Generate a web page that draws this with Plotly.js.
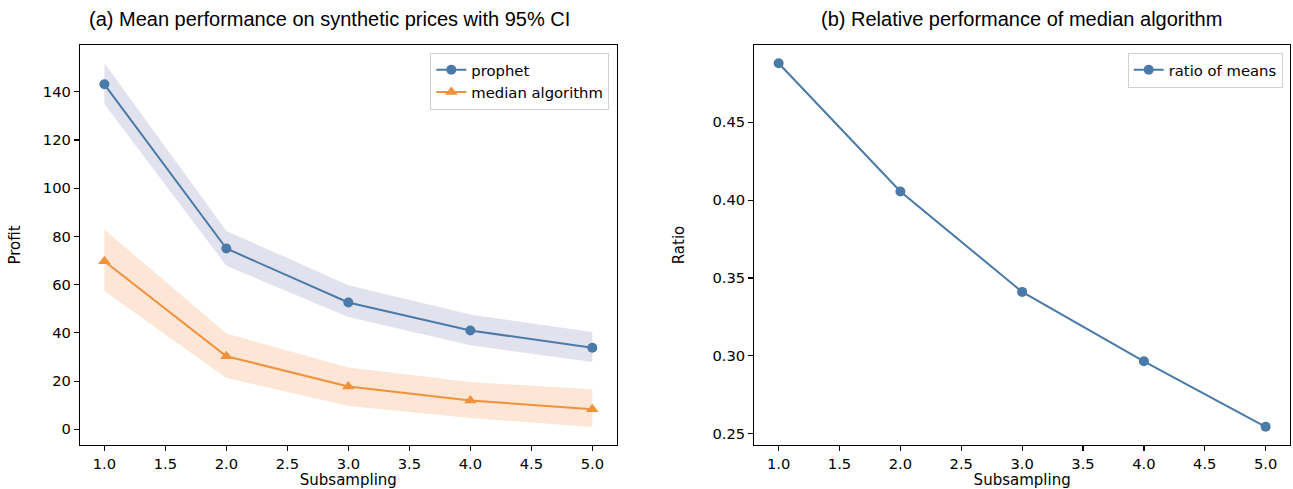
<!DOCTYPE html>
<html>
<head>
<meta charset="utf-8">
<script src="https://cdn.plot.ly/plotly-3.0.1.min.js"></script>
<style>html,body{margin:0;padding:0;background:#fff;}#chart{width:1293px;height:489px;}</style>
</head>
<body>
<div id="chart"></div>
<script>
// Data
const subsampling = [1, 2, 3, 4, 5];
const prophetMean = [143.1, 75.0, 52.6, 41.0, 33.8];
const prophetUpper = [151.8, 82.3, 59.8, 47.6, 40.4];
const prophetLower = [134.9, 67.8, 46.6, 34.9, 27.9];
const medianMean = [69.7, 30.3, 17.8, 12.0, 8.3];
const medianUpper = [82.9, 39.7, 25.6, 19.6, 16.6];
const medianLower = [57.4, 21.3, 9.7, 4.7, 1.0];
const ratioOfMeans = [0.488, 0.4055, 0.341, 0.2964, 0.2543];
const xTickVals = [1, 1.5, 2, 2.5, 3, 3.5, 4, 4.5, 5];
const xTickText = ['1.0','1.5','2.0','2.5','3.0','3.5','4.0','4.5','5.0'];
const profitTicks = [0, 20, 40, 60, 80, 100, 120, 140];
const ratioTicks = [0.25, 0.30, 0.35, 0.40, 0.45];
const ratioTickText = ['0.25','0.30','0.35','0.40','0.45'];

const BLUE = '#4a7aa7';
const ORANGE = '#f0923b';
const BLUE_FILL = 'rgba(200,202,222,0.55)';
const ORANGE_FILL = 'rgba(250,196,156,0.42)';

const traces = [
  {x: subsampling, y: prophetUpper, mode: 'lines', line: {width: 0, color: BLUE_FILL}, showlegend: false, hoverinfo: 'skip', xaxis: 'x', yaxis: 'y'},
  {x: subsampling, y: prophetLower, mode: 'lines', line: {width: 0, color: BLUE_FILL}, fill: 'tonexty', fillcolor: BLUE_FILL, showlegend: false, hoverinfo: 'skip', xaxis: 'x', yaxis: 'y'},
  {x: subsampling, y: medianUpper, mode: 'lines', line: {width: 0, color: ORANGE_FILL}, showlegend: false, hoverinfo: 'skip', xaxis: 'x', yaxis: 'y'},
  {x: subsampling, y: medianLower, mode: 'lines', line: {width: 0, color: ORANGE_FILL}, fill: 'tonexty', fillcolor: ORANGE_FILL, showlegend: false, hoverinfo: 'skip', xaxis: 'x', yaxis: 'y'},
  {x: subsampling, y: prophetMean, name: 'prophet', mode: 'lines+markers', line: {color: BLUE, width: 2}, marker: {symbol: 'circle', size: 10, color: BLUE}, xaxis: 'x', yaxis: 'y', legend: 'legend'},
  {x: subsampling, y: medianMean, name: 'median algorithm', mode: 'lines+markers', line: {color: ORANGE, width: 2}, marker: {symbol: 'triangle-up', size: 11, color: ORANGE}, xaxis: 'x', yaxis: 'y', legend: 'legend'},
  {x: subsampling, y: ratioOfMeans, name: 'ratio of means', mode: 'lines+markers', line: {color: BLUE, width: 2}, marker: {symbol: 'circle', size: 10, color: BLUE}, xaxis: 'x2', yaxis: 'y2', legend: 'legend2'}
];

const tickFont = {family: 'DejaVu Sans', size: 14.7, color: '#000'};
const titleFont = {family: 'DejaVu Sans', size: 15, color: '#000'};
const axisCommon = {
  showgrid: false, zeroline: false, showline: true, mirror: true,
  linecolor: '#000', linewidth: 1.2, ticks: 'outside', ticklen: 5, tickwidth: 1.2,
  tickcolor: '#000', tickfont: tickFont
};
const W = 1293, ML = 80, MR = 3;
const PW = W - ML - MR;
function px(xp) { return (xp - ML) / PW; }
const legendFont = {family: 'DejaVu Sans', size: 14.8, color: '#000'};

const layout = {
  width: 1293, height: 489,
  margin: {l: ML, r: MR, t: 45, b: 44},
  paper_bgcolor: '#fff', plot_bgcolor: '#fff',
  font: {family: 'DejaVu Sans', size: 14, color: '#000'},
  xaxis: Object.assign({}, axisCommon, {domain: [0, px(616.7)], range: [0.8, 5.2], tickvals: xTickVals, ticktext: xTickText, title: {text: 'Subsampling', font: titleFont, standoff: 5}, anchor: 'y'}),
  yaxis: Object.assign({}, axisCommon, {domain: [0, 1], range: [-6.5, 159.4], tickvals: profitTicks, title: {text: 'Profit', font: titleFont, standoff: 18}, anchor: 'x'}),
  xaxis2: Object.assign({}, axisCommon, {domain: [px(754.3), 1], range: [0.8, 5.2], tickvals: xTickVals, ticktext: xTickText, title: {text: 'Subsampling', font: titleFont, standoff: 5}, anchor: 'y2'}),
  yaxis2: Object.assign({}, axisCommon, {domain: [0, 1], range: [0.2426, 0.4997], tickvals: ratioTicks, ticktext: ratioTickText, title: {text: 'Ratio', font: titleFont, standoff: 24}, anchor: 'x2'}),
  legend: {x: px(609.3), xanchor: 'right', y: 1 - (52.7 - 45) / 400, yanchor: 'top', traceorder: 'normal', bgcolor: 'rgba(255,255,255,0.85)', bordercolor: '#d0d0d0', borderwidth: 1, font: legendFont, tracegroupgap: 0},
  legend2: {x: px(1282.7), xanchor: 'right', y: 1 - (52.7 - 45) / 400, yanchor: 'top', bgcolor: 'rgba(255,255,255,0.85)', bordercolor: '#d0d0d0', borderwidth: 1, font: legendFont},
  annotations: [
    {text: '(a) Mean performance on synthetic prices with 95% CI', xref: 'paper', yref: 'paper', x: px(329.5), y: 1 + (45 - 19) / 400, xanchor: 'center', yanchor: 'middle', showarrow: false, font: {family: 'Liberation Sans', size: 20, color: '#000'}},
    {text: '(b) Relative performance of median algorithm', xref: 'paper', yref: 'paper', x: px(1021.5), y: 1 + (45 - 19) / 400, xanchor: 'center', yanchor: 'middle', showarrow: false, font: {family: 'Liberation Sans', size: 20, color: '#000'}}
  ],
  showlegend: true
};

Plotly.newPlot('chart', traces, layout, {displayModeBar: false, staticPlot: true});
</script>
</body>
</html>
